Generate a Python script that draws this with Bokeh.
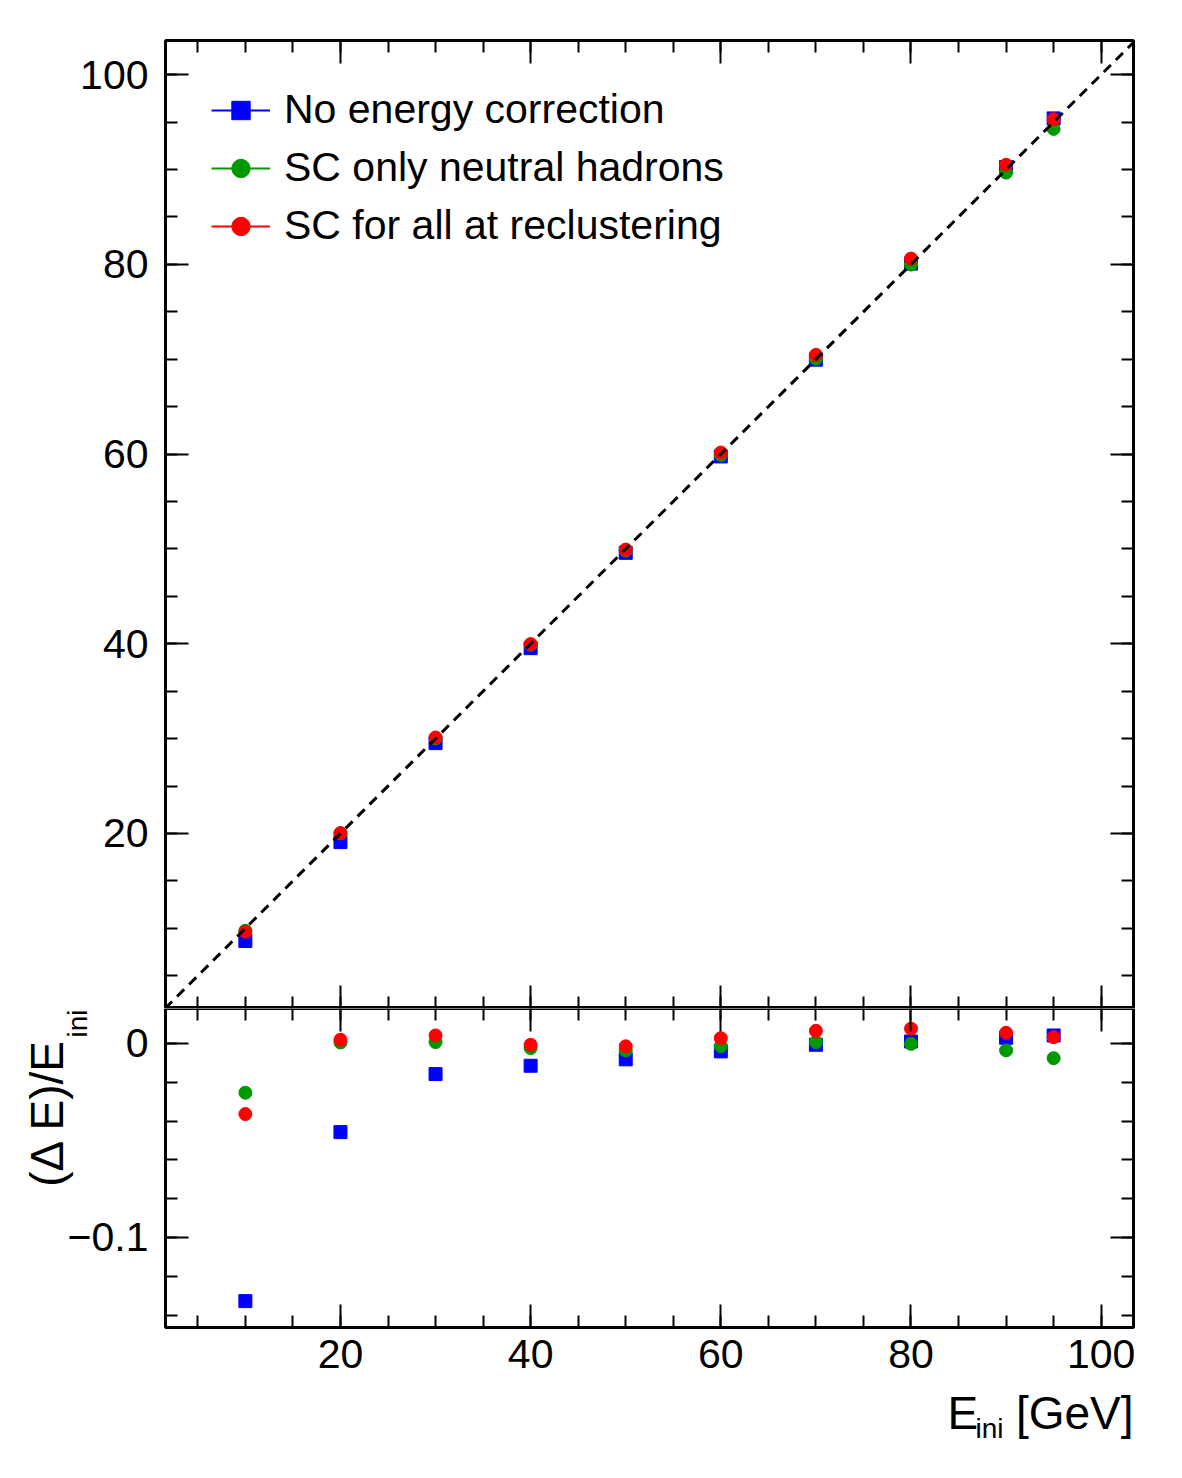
import math
from bokeh.plotting import figure
from bokeh.models import (Range1d, LinearAxis, FixedTicker, Slope, Legend, LegendItem,
                          ColumnDataSource, CustomLabelingPolicy, BoxAnnotation)
from bokeh.core.properties import value
from bokeh.layouts import column
from bokeh.embed import file_html
from bokeh.resources import INLINE

# ---------------- data ----------------
energies = [10, 20, 30, 40, 50, 60, 70, 80, 90, 95]

reco_none = [8.67, 19.09, 29.53, 39.54, 49.59, 59.75, 69.95, 80.08, 90.26, 95.39]
reco_neutral = [9.75, 20.01, 30.02, 39.90, 49.82, 59.92, 70.05, 79.98, 89.68, 94.28]
reco_all = [9.64, 20.04, 30.12, 39.97, 49.93, 60.16, 70.46, 80.61, 90.50, 95.30]

ratio_none = [-0.1328, -0.0457, -0.0158, -0.0115, -0.0082, -0.0041, -0.0007, 0.0010, 0.0029, 0.0041]
ratio_neutral = [-0.0254, 0.0005, 0.0007, -0.0024, -0.0036, -0.0014, 0.0007, -0.0002, -0.0036, -0.0076]
ratio_all = [-0.0364, 0.0019, 0.0041, -0.0007, -0.0015, 0.0027, 0.0065, 0.0076, 0.0055, 0.0032]

series_names = ["No energy correction", "SC only neutral hadrons", "SC for all at reclustering"]
series_colors = ["#0000ff", "#009900", "#ff0000"]
series_markers = ["square", "circle", "circle"]

x_major = [20, 40, 60, 80, 100]
x_minor = [5, 10, 15, 20, 25, 30, 35, 40, 45, 50, 55, 60, 65, 70, 75, 80, 85, 90, 95, 100]
top_y_major = [20, 40, 60, 80, 100]
top_y_minor = [5, 10, 15, 20, 25, 30, 35, 40, 45, 50, 55, 60, 65, 70, 75, 80, 85, 90, 95, 100]
bot_y_major = [-0.1, 0.0]
bot_y_minor = [-0.14, -0.12, -0.10, -0.08, -0.06, -0.04, -0.02, 0.0]
bot_y_labels = {-0.1: "\u22120.1", 0.0: "0"}

x_title_parts = ["E", "ini", "[GeV]"]
y_title_parts = ["(\u0394 E)/E", "ini"]

# axis limits
XLO, XHI = 1.6, 103.4
TOP_YLO, TOP_YHI = 1.55, 103.6
BOT_YLO, BOT_YHI = -0.1464, 0.018

FONT = "Liberation Sans"
TICK_FS = "41px"
TITLE_FS = "46px"
SUB_FS = "28px"

NO_LABELS = CustomLabelingPolicy(code="for (const i of indices) { indices.unset(i) }\nreturn indices")


def style_axis(ax, ticks, minor, labels=True, standoff=8):
    ax.ticker = FixedTicker(ticks=ticks, minor_ticks=minor)
    ax.axis_line_color = None
    ax.major_tick_in = 23
    ax.major_tick_out = 0
    ax.minor_tick_in = 12
    ax.minor_tick_out = 0
    ax.major_tick_line_width = 2
    ax.minor_tick_line_width = 2
    ax.major_tick_line_color = "black"
    ax.minor_tick_line_color = "black"
    if labels:
        ax.major_label_text_font = FONT
        ax.major_label_text_font_size = TICK_FS
        ax.major_label_text_color = "black"
        ax.major_label_standoff = standoff
    else:
        ax.major_label_text_font_size = "0px"
        ax.major_label_standoff = 0
        ax.major_label_policy = NO_LABELS


# ---------------- top panel ----------------
p1 = figure(width=1182, height=1008, x_range=Range1d(XLO, XHI), y_range=Range1d(TOP_YLO, TOP_YHI),
            toolbar_location=None, output_backend="svg",
            min_border_left=165, min_border_right=49, min_border_top=40, min_border_bottom=0)
p1.frame_align = False
p1.grid.grid_line_color = None
p1.outline_line_color = "black"
p1.outline_line_width = 3
p1.background_fill_color = "white"
p1.border_fill_color = "white"

style_axis(p1.xaxis[0], x_major, x_minor, labels=False)
style_axis(p1.yaxis[0], top_y_major, top_y_minor, labels=True, standoff=17)
ax_top = LinearAxis()
style_axis(ax_top, x_major, x_minor, labels=False)
p1.add_layout(ax_top, "above")
ax_right = LinearAxis()
style_axis(ax_right, top_y_major, top_y_minor, labels=False)
p1.add_layout(ax_right, "right")

p1.add_layout(Slope(gradient=1, y_intercept=0, line_color="black", line_width=3,
                    line_dash="10 7"))

items = []
for name, color, marker, yvals in zip(series_names, series_colors, series_markers,
                                      [reco_none, reco_neutral, reco_all]):
    src = ColumnDataSource(dict(x=energies, y=yvals))
    # line used only for the legend sample (ROOT "lp" style); hidden in the plot
    lr = p1.line("x", "y", source=src, line_color=color, line_width=2)
    lr.visible = False
    sr = p1.scatter("x", "y", source=src, marker=marker, size=13,
                    fill_color=color, line_color=color)
    items.append(LegendItem(label=name, renderers=[lr, sr]))

legend = Legend(items=items, location="top_left", border_line_color=None,
                background_fill_color="white", background_fill_alpha=1.0,
                label_text_font=FONT, label_text_font_size=TICK_FS,
                label_text_color="black",
                glyph_width=59, glyph_height=46, label_height=46, spacing=11,
                label_standoff=14, margin=46, padding=2)
p1.add_layout(legend)

# ---------------- bottom panel ----------------
# The frame of p2 covers the whole canvas; the visible panel box is drawn at the axis limits
W2, H2 = 1182, 470
PL, PR, PT, PB = 165, 1133, 0, 319   # panel box in canvas pixels
kx = (XHI - XLO) / (PR - PL)
ky = (BOT_YHI - BOT_YLO) / (PB - PT)
x2_start = XLO - PL * kx
x2_end = XHI + (W2 - PR) * kx
y2_end = BOT_YHI + PT * ky
y2_start = BOT_YLO - (H2 - PB) * ky


def dx(px):
    return x2_start + px * kx


def dy(py):
    return y2_end - py * ky


p2 = figure(width=W2, height=H2, x_range=Range1d(x2_start, x2_end), y_range=Range1d(y2_start, y2_end),
            toolbar_location=None, output_backend="svg",
            min_border_left=0, min_border_right=0, min_border_top=0, min_border_bottom=0)
p2.frame_align = False
p2.grid.grid_line_color = None
p2.outline_line_color = None
p2.background_fill_color = "white"
p2.border_fill_color = "white"

style_axis(p2.xaxis[0], x_major, x_minor, labels=True, standoff=12)
p2.xaxis[0].fixed_location = BOT_YLO
style_axis(p2.yaxis[0], bot_y_major, bot_y_minor, labels=True, standoff=17)
p2.yaxis[0].major_label_overrides = bot_y_labels
p2.yaxis[0].fixed_location = XLO
ax_top2 = LinearAxis(fixed_location=BOT_YHI)
style_axis(ax_top2, x_major, x_minor, labels=False)
p2.add_layout(ax_top2, "above")
ax_right2 = LinearAxis(fixed_location=XHI)
style_axis(ax_right2, bot_y_major, bot_y_minor, labels=False)
p2.add_layout(ax_right2, "right")

p2.add_layout(BoxAnnotation(left=XLO, right=XHI, bottom=BOT_YLO, top=BOT_YHI,
                            fill_color=None, line_color="black", line_width=3, line_alpha=1.0))

for name, color, marker, yvals in zip(series_names, series_colors, series_markers,
                                      [ratio_none, ratio_neutral, ratio_all]):
    src = ColumnDataSource(dict(x=energies, y=yvals))
    p2.scatter("x", "y", source=src, marker=marker, size=13,
               fill_color=color, line_color=color)


# axis titles (text glyphs placed in the canvas area of p2)
def txt(px, py, text, size, align="left", angle=0.0):
    p2.text(x=[dx(px)], y=[dy(py)], text=[text], angle=angle,
            text_font=value(FONT), text_font_size=value(size), text_color="black",
            text_align=align, text_baseline="alphabetic")


txt(947, 404, x_title_parts[0], TITLE_FS)
txt(975, 420, x_title_parts[1], SUB_FS)
txt(1133, 404, x_title_parts[2], TITLE_FS, align="right")

txt(46, 30, y_title_parts[0], TITLE_FS, align="right", angle=math.pi / 2)
txt(77, 29, y_title_parts[1], SUB_FS, align="left", angle=math.pi / 2)

layout = column(p1, p2, spacing=0)

with open("out.html", "w") as f:
    f.write(file_html(layout, INLINE))
